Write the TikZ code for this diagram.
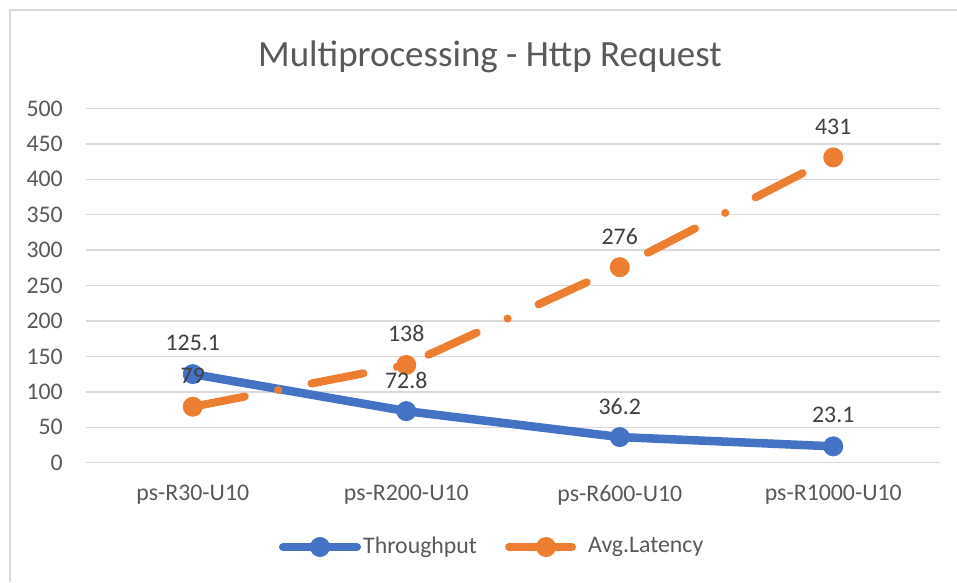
\documentclass[tikz,border=0pt]{standalone}
\usepackage{fontspec}
\setmainfont{Carlito}
\definecolor{serA}{HTML}{4472C4}
\definecolor{serB}{HTML}{ED7D31}
\definecolor{gridc}{HTML}{D9D9D9}
\definecolor{axtext}{HTML}{595959}
\definecolor{lbltext}{HTML}{404040}
\tikzset{
  gridline/.style={draw=gridc, line width=1.4pt},
  frameline/.style={draw=gridc, line width=1.6pt},
  ticklbl/.style={text=axtext, font=\fontsize{23.8}{28}\selectfont, inner sep=0pt},
  datalbl/.style={text=lbltext, font=\fontsize{23.8}{28}\selectfont, inner sep=0pt, yshift=31pt},
  tput/.style={draw=serA, line width=8.5pt, line cap=round, line join=round},
  lat/.style={draw=serB, line width=8pt, line cap=round, line join=round,
    dash pattern=on 53pt off 34pt on 0pt off 34pt},
  latsolid/.style={draw=serB, line width=8pt, line cap=round},
  dotA/.style={circle, fill=serA, minimum size=20pt, inner sep=0pt},
  dotB/.style={circle, fill=serB, minimum size=20pt, inner sep=0pt},
}
\begin{document}
\begin{tikzpicture}[x=1pt,y=-1pt]
\useasboundingbox (0,0) rectangle (957,582);
\fill[white] (0,0) rectangle (957,582);
% chart frame
\draw[frameline] (10,582) -- (10,10) -- (957,10);
% title
\node[text=axtext, font=\fontsize{37}{44}\selectfont, inner sep=0pt, anchor=base] (title) at (490,66) {Multiprocessing - Http Request};
% value axis: gridlines and labels
\begin{scope}[shift={(0,462.7)}, y=0.7084pt]
  \foreach \v in {0,50,...,500} {
    \coordinate (gl\v) at (86,\v);
    \coordinate (gr\v) at (940,\v);
    \draw[gridline] (gl\v) -- (gr\v);
    \node[ticklbl, anchor=east] (yt\v) at (63,\v) {\v};
  }
  % category positions
  \foreach \i/\x/\c in {1/192.75/ps-R30-U10, 2/406.25/ps-R200-U10, 3/619.75/ps-R600-U10, 4/833.25/ps-R1000-U10} {
    \node[ticklbl] (cat\i) at (\x,-45.7) {\c};
  }
  % data points
  \coordinate (t1) at (192.75,125.1);
  \coordinate (t2) at (406.25,72.8);
  \coordinate (t3) at (619.75,36.2);
  \coordinate (t4) at (833.25,23.1);
  \coordinate (l1) at (192.75,79);
  \coordinate (l2) at (406.25,138);
  \coordinate (l3) at (619.75,276);
  \coordinate (l4) at (833.25,431);
\end{scope}
% throughput series
\draw[tput] (t1) -- (t2) -- (t3) -- (t4);
\foreach \p in {t1,t2,t3,t4} \node[dotA] (m\p) at (\p) {};
% latency series
\draw[lat] (l1) -- (l2) -- (l3) -- (l4);
\foreach \p in {l1,l2,l3,l4} \node[dotB] (m\p) at (\p) {};
% data labels
\node[datalbl] (vt1) at (t1) {125.1};
\node[datalbl] (vt2) at (t2) {72.8};
\node[datalbl] (vt3) at (t3) {36.2};
\node[datalbl] (vt4) at (t4) {23.1};
\node[datalbl] (vl1) at (l1) {79};
\node[datalbl] (vl2) at (l2) {138};
\node[datalbl] (vl3) at (l3) {276};
\node[datalbl] (vl4) at (l4) {431};
% legend
\coordinate (lga) at (283,547);
\coordinate (lgb) at (357,547);
\draw[tput, line width=8pt] (lga) -- (lgb);
\node[dotA] (lgm1) at (320,547) {};
\node[ticklbl, anchor=west] (lgt1) at (363,547) {Throughput};
\coordinate (lgc) at (509,547);
\coordinate (lgd) at (572,547);
\draw[latsolid] (lgc) -- (lgd);
\node[dotB] (lgm2) at (546,547) {};
\node[ticklbl, anchor=west] (lgt2) at (588,547) {Avg.Latency};
\end{tikzpicture}
\end{document}
